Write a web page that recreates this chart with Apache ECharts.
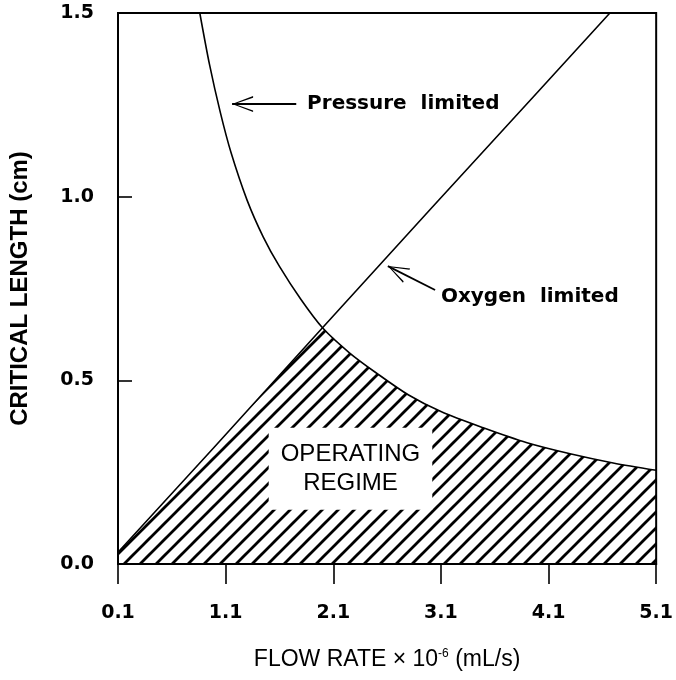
<!DOCTYPE html>
<html>
<head>
<meta charset="utf-8">
<script src="https://cdn.jsdelivr.net/npm/echarts@6/dist/echarts.min.js"></script>
<style>
  html, body { margin: 0; padding: 0; background: #fff; }
  #chart { width: 676px; height: 680px; }
</style>
</head>
<body>
<div id="chart"></div>
<script>
// Flow rate (x 10^-6 mL/s) tick labels
const flowTicks = [0.1, 1.1, 2.1, 3.1, 4.1, 5.1];
const lengthTicks = [0.0, 0.5, 1.0, 1.5];

// Pressure-limited critical length (cm) vs flow rate
const pressureFlow   = [0.86, 0.95, 1.05, 1.15, 1.3, 1.45, 1.6, 1.8, 2.0, 2.25, 2.5, 2.8, 3.1, 3.5, 3.9, 4.3, 4.7, 5.1];
const pressureLength = [1.50, 1.36, 1.23, 1.12, 0.99, 0.89, 0.81, 0.72, 0.643, 0.575, 0.52, 0.46, 0.415, 0.37, 0.33, 0.30, 0.275, 0.255];

// Oxygen-limited critical length (cm) vs flow rate
const oxygenFlow   = [0.1, 1.0, 2.0, 3.0, 4.0, 4.67];
const oxygenLength = [0.032, 0.32, 0.643, 0.965, 1.285, 1.5];

const pairs = (xs, ys) => xs.map((x, i) => [x, ys[i]]);
const pressure = pairs(pressureFlow, pressureLength);
const oxygen = pairs(oxygenFlow, oxygenLength);

// Operating regime: below whichever limit is lower (oxygen up to the crossing, pressure after it)
const crossFlow = 2.0;
const regime = oxygen.filter(p => p[0] <= crossFlow)
  .concat(pressure.filter(p => p[0] > crossFlow));

// Diagonal hatch tile
function hatchTile(size, width) {
  const c = document.createElement('canvas');
  c.width = size; c.height = size;
  const g = c.getContext('2d');
  g.strokeStyle = '#000';
  g.lineWidth = width;
  g.lineCap = 'square';
  g.beginPath();
  g.moveTo(0, size); g.lineTo(size, 0);
  g.moveTo(-size / 2, size / 2); g.lineTo(size / 2, -size / 2);
  g.moveTo(size / 2, size * 1.5); g.lineTo(size * 1.5, size / 2);
  g.stroke();
  return c;
}

// Open arrowhead with its tip at the symbol centre
const openArrow = 'path://M8,-21 L8,-21 Z M8,0 L16,21 L14.4,21 L8,2.6 L1.6,21 L0,21 Z';

const tickFont = { fontFamily: 'DejaVu Sans', fontWeight: 'bold', fontSize: 19, color: '#000' };

const chart = echarts.init(document.getElementById('chart'), null, { renderer: 'canvas' });
chart.setOption({
  backgroundColor: '#fff',
  animation: false,
  grid: {
    left: 115, right: 15, top: 13, bottom: 116,
    show: true, borderColor: '#000', borderWidth: 2, backgroundColor: 'transparent'
  },
  xAxis: {
    type: 'value',
    min: 0.1, max: 5.1,
    name: '{t|FLOW RATE × 10}{s|-6}{t| (mL/s)}',
    nameLocation: 'middle',
    nameGap: 84,
    nameTextStyle: {
      rich: {
        t: { fontFamily: 'Liberation Sans', fontSize: 23, color: '#000' },
        s: { fontFamily: 'Liberation Sans', fontSize: 12, color: '#000', verticalAlign: 'top', padding: [0, 0, 12, 0] }
      }
    },
    axisLine: { show: true, lineStyle: { color: '#000', width: 2 } },
    axisTick: { show: true, inside: false, length: 20, lineStyle: { color: '#000', width: 1.6 }, customValues: flowTicks },
    axisLabel: Object.assign({ margin: 40, customValues: flowTicks, formatter: v => v.toFixed(1) }, tickFont),
    splitLine: { show: false }
  },
  yAxis: {
    type: 'value',
    min: 0, max: 1.5,
    name: 'CRITICAL LENGTH (cm)',
    nameLocation: 'middle',
    nameGap: 86,
    nameTextStyle: { fontFamily: 'Liberation Sans', fontWeight: 'bold', fontSize: 24, color: '#000' },
    axisLine: { show: true, lineStyle: { color: '#000', width: 2 } },
    axisTick: { show: true, inside: true, length: 14, lineStyle: { color: '#000', width: 1.6 }, customValues: lengthTicks },
    axisLabel: Object.assign({ margin: 24, customValues: lengthTicks, formatter: v => v.toFixed(1) }, tickFont),
    splitLine: { show: false }
  },
  series: [
    {
      name: 'Operating regime',
      type: 'line',
      data: regime,
      showSymbol: false,
      silent: true,
      z: 1,
      lineStyle: { width: 0 },
      areaStyle: { color: { image: hatchTile(16, 2.8), repeat: 'repeat' }, opacity: 1, origin: 'start' },
      markPoint: {
        symbol: 'rect',
        symbolSize: 0,
        silent: true,
        data: [{
          coord: [2.26, 0.259],
          label: {
            show: true,
            position: 'inside',
            formatter: 'OPERATING\nREGIME',
            fontFamily: 'Liberation Sans',
            fontSize: 24,
            lineHeight: 29,
            align: 'center',
            color: '#000',
            backgroundColor: '#fff',
            padding: [12, 12]
          }
        }]
      }
    },
    {
      name: 'Pressure limited',
      type: 'line',
      data: pressure,
      showSymbol: false,
      smooth: 0.3,
      z: 3,
      lineStyle: { color: '#000', width: 1.6 }
    },
    {
      name: 'Oxygen limited',
      type: 'line',
      data: oxygen,
      showSymbol: false,
      z: 3,
      lineStyle: { color: '#000', width: 1.6 },
      markLine: {
        silent: true,
        symbol: ['none', openArrow],
        symbolSize: [16, 42],
        lineStyle: { color: '#000', width: 1.8, type: 'solid' },
        label: { show: false },
        data: [
          [{ coord: [1.756, 1.252] }, { coord: [1.16, 1.252] }],
          [{ coord: [3.046, 0.746] }, { coord: [2.607, 0.811] }]
        ]
      },
      markPoint: {
        symbol: 'circle',
        symbolSize: 0,
        silent: true,
        label: {
          show: true,
          position: 'right',
          distance: 0,
          fontFamily: 'DejaVu Sans',
          fontWeight: 'bold',
          fontSize: 20,
          color: '#000'
        },
        data: [
          { coord: [1.857, 1.252], label: { formatter: 'Pressure  limited' } },
          { coord: [3.10, 0.727], label: { formatter: 'Oxygen  limited' } }
        ]
      }
    }
  ]
});
</script>
</body>
</html>
